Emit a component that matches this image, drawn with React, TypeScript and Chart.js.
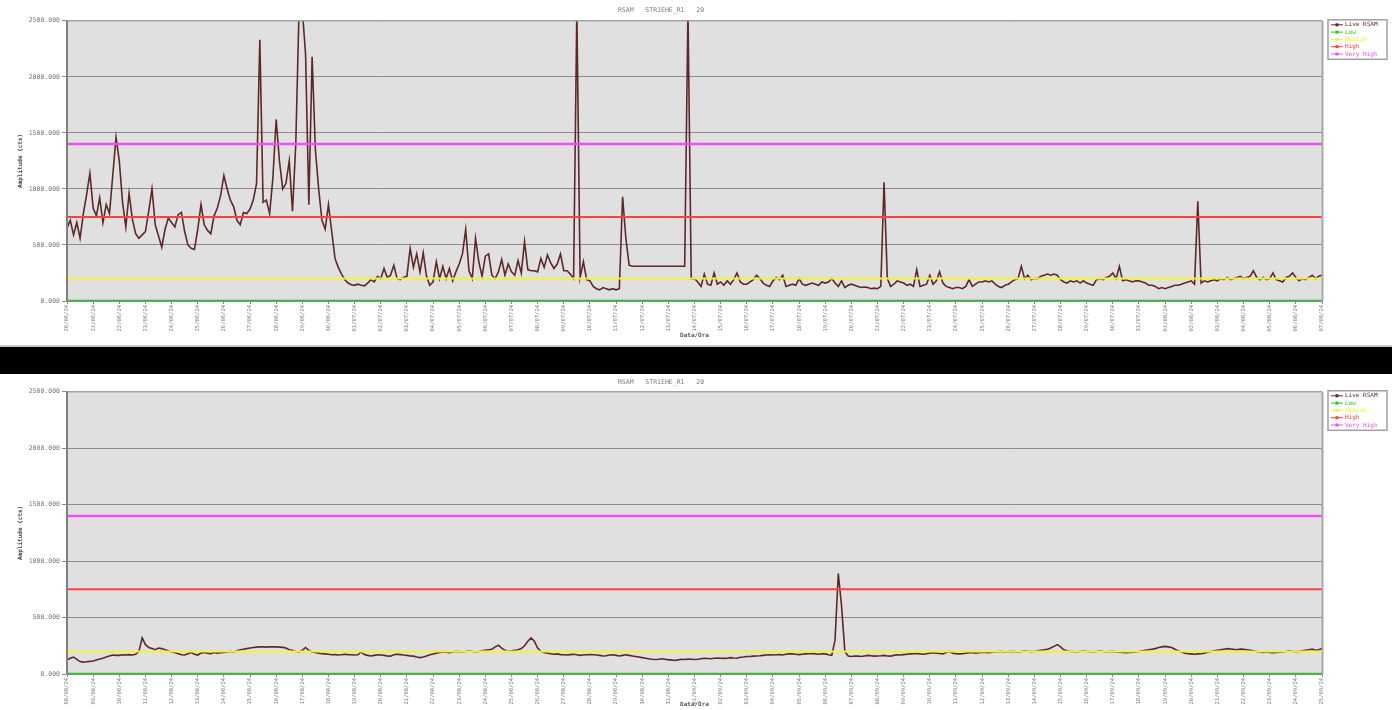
import React, { useEffect, useRef } from "react";
import { Chart, registerables } from "chart.js";

Chart.register(...registerables);

// ---------- data ----------
const chartTitle = "RSAM   STR1EHE_R1   20";
const yAxisTitle = "Amplitude (cts)";
const xAxisTitle = "Data/Ora";
const seriesName = "Live RSAM";
const SAMPLES_PER_DAY = 8;

const topDates = [
  "20/06/24", "21/06/24", "22/06/24", "23/06/24", "24/06/24", "25/06/24", "26/06/24",
  "27/06/24", "28/06/24", "29/06/24", "30/06/24", "01/07/24", "02/07/24", "03/07/24",
  "04/07/24", "05/07/24", "06/07/24", "07/07/24", "08/07/24", "09/07/24", "10/07/24",
  "11/07/24", "12/07/24", "13/07/24", "14/07/24", "15/07/24", "16/07/24", "17/07/24",
  "18/07/24", "19/07/24", "20/07/24", "21/07/24", "22/07/24", "23/07/24", "24/07/24",
  "25/07/24", "26/07/24", "27/07/24", "28/07/24", "29/07/24", "30/07/24", "31/07/24",
  "01/08/24", "02/08/24", "03/08/24", "04/08/24", "05/08/24", "06/08/24", "07/08/24",
];

const bottomDates = [
  "08/08/24", "09/08/24", "10/08/24", "11/08/24", "12/08/24", "13/08/24", "14/08/24",
  "15/08/24", "16/08/24", "17/08/24", "18/08/24", "19/08/24", "20/08/24", "21/08/24",
  "22/08/24", "23/08/24", "24/08/24", "25/08/24", "26/08/24", "27/08/24", "28/08/24",
  "29/08/24", "30/08/24", "31/08/24", "01/09/24", "02/09/24", "03/09/24", "04/09/24",
  "05/09/24", "06/09/24", "07/09/24", "08/09/24", "09/09/24", "10/09/24", "11/09/24",
  "12/09/24", "13/09/24", "14/09/24", "15/09/24", "16/09/24", "17/09/24", "18/09/24",
  "19/09/24", "20/09/24", "21/09/24", "22/09/24", "23/09/24", "24/09/24", "25/09/24",
];

// 8 samples per day
const topRsam = [
  650, 720, 590, 700, 560, 780, 950, 1140,
  830, 760, 920, 700, 860, 780, 1120, 1460,
  1250, 880, 660, 960, 730, 600, 560, 590,
  620, 800, 1000, 680, 580, 480, 640, 740,
  700, 660, 770, 790, 620, 500, 470, 460,
  640, 860, 680, 630, 600, 760, 830, 940,
  1120, 1000, 900, 840, 720, 680, 790, 780,
  820, 900, 1050, 2330, 880, 900, 780, 1100,
  1620, 1250, 1000, 1050, 1250, 800, 1400, 2600,
  2600, 2200, 860, 2180, 1350, 1000, 720, 640,
  860, 620, 380, 300, 240, 190, 160, 145,
  140, 150, 140, 135, 160, 190, 170, 220,
  200, 290, 210, 230, 320, 200, 190, 210,
  220, 470, 300, 420, 260, 430, 220, 140,
  170, 350, 200, 310, 200, 290, 180, 260,
  330, 420, 640, 270, 200, 560, 350, 220,
  400, 420, 230, 200, 260, 370, 230, 330,
  260, 230, 360, 250, 530, 280, 270, 270,
  260, 380, 300, 410, 340, 290, 330, 420,
  270, 270, 240, 200, 2600, 210, 350, 190,
  180, 130, 110, 100, 120, 110, 100, 110,
  100, 110, 930, 560, 320, 310, 310, 310,
  310, 310, 310, 310, 310, 310, 310, 310,
  310, 310, 310, 310, 310, 310, 2600, 200,
  200, 170, 130, 240, 150, 140, 250, 150,
  170, 140, 180, 150, 190, 250, 170, 150,
  150, 170, 190, 230, 200, 160, 140, 130,
  180, 210, 190, 230, 130, 140, 150, 140,
  200, 150, 140, 150, 160, 150, 140, 170,
  160, 170, 200, 160, 130, 180, 120, 140,
  150, 140, 130, 120, 125, 120, 110, 115,
  110, 130, 1060, 200, 130, 150, 180, 170,
  160, 140, 150, 130, 280, 130, 140, 150,
  230, 150, 180, 260, 160, 130, 120, 110,
  120, 120, 110, 130, 190, 130, 150, 170,
  170, 180, 170, 180, 150, 130, 120, 140,
  150, 170, 190, 200, 310, 200, 230, 190,
  200, 200, 220, 230, 240, 230, 240, 230,
  190, 170, 160, 180, 170, 180, 160, 180,
  160, 150, 140, 190, 200, 190, 210, 220,
  250, 200, 310, 180, 190, 180, 170, 180,
  180, 170, 160, 140, 140, 130, 110, 120,
  110, 120, 130, 140, 140, 150, 160, 170,
  180, 150, 890, 160, 180, 170, 180, 190,
  180, 200, 190, 210, 190, 200, 210, 220,
  200, 210, 220, 270, 210, 190, 210, 190,
  200, 250, 190, 180, 170, 210, 220, 250,
  210, 180, 200, 190, 210, 230, 200, 220,
  230,
];

const bottomRsam = [
  125, 140, 150, 130, 110, 105, 108, 112,
  115, 125, 133, 140, 150, 160, 168, 165,
  165, 170, 168, 172, 168, 175, 200, 320,
  260, 235, 225, 215, 230, 225, 215, 205,
  195, 190, 180, 170, 168, 180, 190, 175,
  168, 185, 190, 185, 180, 190, 185, 188,
  190, 195, 200, 195, 205, 215, 220, 225,
  230, 235, 238, 240, 240, 238, 242, 240,
  240, 238, 236, 230, 215, 210, 200, 195,
  210, 235, 210, 195, 190, 185, 180, 178,
  175, 170, 172, 168, 170, 175, 172, 170,
  168, 170, 195, 172, 165, 160, 165, 170,
  168, 165, 160, 158, 170, 175, 172, 168,
  165, 160, 158, 150, 145, 150, 160, 170,
  178, 185, 190, 195, 192, 188, 195, 200,
  198, 195, 200, 205, 200, 195, 200, 205,
  210, 215, 220, 240, 255, 230, 210, 200,
  205, 210, 215, 225, 250, 290, 320, 290,
  230, 200, 190, 185, 180, 175, 178, 172,
  170, 168, 172, 175, 170, 165, 168, 170,
  172, 170, 168, 165, 160, 162, 168, 170,
  165, 160, 165, 170, 165, 160, 155, 150,
  145, 140, 135, 130, 128, 130, 135, 130,
  125, 125, 120, 125, 130, 128, 132, 130,
  128, 130, 135, 140, 138, 135, 140, 142,
  140, 138, 140, 145, 142, 140, 148, 150,
  155, 155, 158, 160, 162, 165, 168, 170,
  168, 170, 172, 168, 175, 178, 180, 175,
  172, 175, 178, 180, 182, 178, 175, 180,
  178, 170, 165, 300, 890, 600, 200, 160,
  155, 160, 158, 155, 160, 165, 162, 158,
  160, 162, 165, 160, 158, 165, 170, 168,
  172, 175, 178, 180, 182, 178, 175, 180,
  185, 188, 185, 182, 178, 190, 200, 185,
  180, 178, 180, 185, 188, 190, 185, 188,
  192, 190, 188, 192, 195, 198, 200, 195,
  198, 200, 198, 195, 200, 205, 202, 198,
  200, 205, 210, 215, 220, 230, 245, 260,
  240, 215, 205, 200, 198, 195, 200, 205,
  200, 198, 195, 200, 205, 200, 195, 198,
  200, 195, 192, 190, 188, 190, 192, 195,
  200, 205, 210, 215, 220, 225, 235, 240,
  245, 240, 235, 220, 205, 195, 185, 180,
  178, 175, 178, 180, 185, 192, 200, 205,
  210, 215, 220, 225, 222, 218, 215, 220,
  218, 215, 210, 205, 200, 195, 192, 195,
  190, 188, 190, 192, 195, 200, 205, 200,
  198, 200, 205, 210, 215, 220, 210, 215,
  225, 230,
];

const thresholdNames = ["Low", "Medium", "High", "Very High"];
const thresholdValues = [0, 200, 750, 1400];
const thresholdColors = ["#1fcc1f", "#f2f23c", "#ff4040", "#ee50ee"];
const thresholdWidths = [2.5, 2, 2, 2.5];
const seriesColor = "#5e2828";

const yTickValues = [0, 500, 1000, 1500, 2000, 2500];

// ---------- helpers ----------
const MONO = '"DejaVu Sans Mono", monospace';

const plotFrame = {
  id: "plotFrame",
  beforeDraw(chart: any) {
    const { ctx, chartArea: a } = chart;
    ctx.save();
    ctx.fillStyle = "#e0e0e0";
    ctx.fillRect(a.left, a.top, a.right - a.left, a.bottom - a.top);
    ctx.restore();
  },
  afterDatasetsDraw(chart: any) {
    const { ctx, chartArea: a } = chart;
    ctx.save();
    ctx.strokeStyle = "#a8a8a8";
    ctx.lineWidth = 1.2;
    ctx.beginPath();
    ctx.moveTo(a.left, a.top);
    ctx.lineTo(a.right, a.top);
    ctx.stroke();
    ctx.lineWidth = 2;
    ctx.beginPath();
    ctx.moveTo(a.right + 0.5, a.top);
    ctx.lineTo(a.right + 0.5, a.bottom);
    ctx.stroke();
    ctx.strokeStyle = "#808080";
    ctx.lineWidth = 2;
    ctx.beginPath();
    ctx.moveTo(a.left, a.top);
    ctx.lineTo(a.left, a.bottom);
    ctx.stroke();
    ctx.restore();
  },
};

const boxLegend = {
  id: "boxLegend",
  afterDraw(chart: any) {
    const { ctx, chartArea: a } = chart;
    const items = [{ label: seriesName, color: seriesColor }].concat(
      thresholdNames.map((n, i) => ({ label: n, color: thresholdColors[i] }))
    );
    const x = a.right + 6;
    const y = a.top - 1;
    const w = 59;
    const rowH = 7.3;
    const h = items.length * rowH + 3;
    ctx.save();
    ctx.fillStyle = "#ffffff";
    ctx.fillRect(x, y, w, h);
    ctx.strokeStyle = "#a0a0a0";
    ctx.lineWidth = 1.5;
    ctx.strokeRect(x, y, w, h);
    ctx.font = `6px ${MONO}`;
    ctx.textBaseline = "middle";
    ctx.textAlign = "left";
    items.forEach((it, i) => {
      const cy = y + 5 + i * rowH;
      ctx.strokeStyle = it.color;
      ctx.lineWidth = 1;
      ctx.beginPath();
      ctx.moveTo(x + 3, cy);
      ctx.lineTo(x + 15, cy);
      ctx.stroke();
      ctx.fillStyle = it.color;
      ctx.fillRect(x + 7.5, cy - 1.5, 3, 3);
      ctx.fillText(it.label, x + 17, cy);
    });
    ctx.restore();
  },
};

function buildConfig(values: number[], dates: string[], opts: {
  titlePad: { top: number; bottom: number };
  xAxisHeight: number;
  xTitlePadBottom: number;
}) {
  const lastDay = dates.length - 1;
  const seriesPoints = values.map((v, i) => ({ x: i / SAMPLES_PER_DAY, y: v }));
  const thresholdSets = thresholdValues.map((tv, i) => ({
    label: thresholdNames[i],
    data: [
      { x: 0, y: tv },
      { x: lastDay, y: tv },
    ],
    borderColor: thresholdColors[i],
    borderWidth: thresholdWidths[i],
    pointRadius: 0,
  }));
  return {
    type: "line" as const,
    data: {
      datasets: [
        ...thresholdSets,
        {
          label: seriesName,
          data: seriesPoints,
          borderColor: seriesColor,
          borderWidth: 1.6,
          pointRadius: 0,
          tension: 0,
        },
      ],
    },
    options: {
      responsive: false,
      animation: false as const,
      devicePixelRatio: 1,
      layout: { padding: { left: 0, right: 70, top: 0, bottom: 0 } },
      plugins: {
        legend: { display: false },
        tooltip: { enabled: false },
        title: {
          display: true,
          text: chartTitle,
          color: "#7a7a7a",
          font: { family: MONO, size: 6.5, weight: "normal" as const },
          padding: opts.titlePad,
        },
      },
      scales: {
        x: {
          type: "linear" as const,
          min: 0,
          max: lastDay,
          afterBuildTicks(scale: any) {
            scale.ticks = dates.map((_, i) => ({ value: i }));
          },
          afterFit(scale: any) {
            scale.height = opts.xAxisHeight;
          },
          ticks: {
            autoSkip: false,
            minRotation: 90,
            maxRotation: 90,
            padding: 1,
            color: "#777",
            font: { family: MONO, size: 5.5 },
            callback: (v: any) => dates[Math.round(Number(v))] ?? "",
          },
          grid: {
            drawOnChartArea: false,
            drawTicks: true,
            tickLength: 3,
            color: "#888",
          },
          border: { display: false },
          title: {
            display: true,
            text: xAxisTitle,
            color: "#555",
            font: { family: MONO, size: 6, weight: "bold" as const },
            padding: { top: 0, bottom: opts.xTitlePadBottom },
          },
        },
        y: {
          type: "linear" as const,
          min: 0,
          max: 2500,
          afterBuildTicks(scale: any) {
            scale.ticks = yTickValues.map((v) => ({ value: v }));
          },
          afterFit(scale: any) {
            scale.width = 67;
          },
          ticks: {
            padding: 2,
            color: "#777",
            font: { family: MONO, size: 6.5 },
            callback: (v: any) => Number(v).toFixed(3),
          },
          grid: {
            color: "#8c8c8c",
            lineWidth: 1,
            tickLength: 5,
          },
          border: { display: false },
          title: {
            display: true,
            text: yAxisTitle,
            color: "#444",
            font: { family: MONO, size: 6, weight: "bold" as const },
            padding: { top: 17, bottom: 0 },
          },
        },
      },
    },
    plugins: [plotFrame, boxLegend],
  };
}

export default function App() {
  const topRef = useRef<HTMLCanvasElement | null>(null);
  const bottomRef = useRef<HTMLCanvasElement | null>(null);

  useEffect(() => {
    const charts: Chart[] = [];
    if (topRef.current) {
      charts.push(
        new Chart(
          topRef.current,
          buildConfig(topRsam, topDates, {
            titlePad: { top: 6, bottom: 7 },
            xAxisHeight: 45,
            xTitlePadBottom: 7,
          }) as any
        )
      );
    }
    if (bottomRef.current) {
      charts.push(
        new Chart(
          bottomRef.current,
          buildConfig(bottomRsam, bottomDates, {
            titlePad: { top: 4, bottom: 6 },
            xAxisHeight: 36,
            xTitlePadBottom: 2,
          }) as any
        )
      );
    }
    return () => charts.forEach((c) => c.destroy());
  }, []);

  return (
    <div
      style={{
        position: "absolute",
        left: 0,
        top: 0,
        width: 1392,
        height: 710,
        background: "#ffffff",
        overflow: "hidden",
      }}
    >
      <canvas
        ref={topRef}
        width={1392}
        height={346}
        style={{ position: "absolute", left: 0, top: 0, width: 1392, height: 346 }}
      />
      <div
        style={{
          position: "absolute",
          left: 0,
          top: 345,
          width: 1392,
          height: 2,
          background: "#c8c8c8",
        }}
      />
      <div
        style={{
          position: "absolute",
          left: 0,
          top: 347,
          width: 1392,
          height: 27,
          background: "#000000",
        }}
      />
      <canvas
        ref={bottomRef}
        width={1392}
        height={336}
        style={{ position: "absolute", left: 0, top: 374, width: 1392, height: 336 }}
      />
    </div>
  );
}
